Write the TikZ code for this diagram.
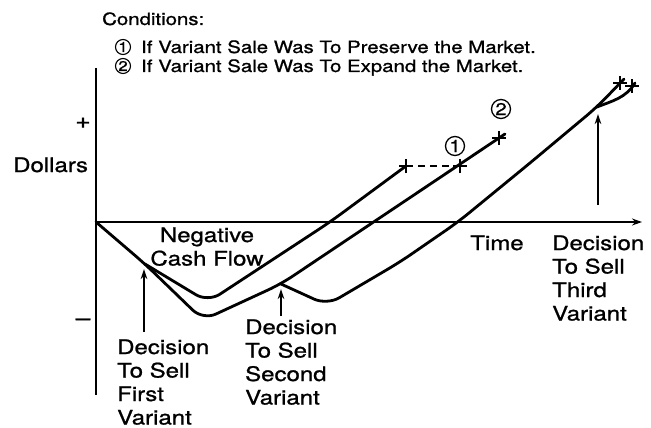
\documentclass[tikz,border=0pt]{standalone}
\usepackage{fontspec}
\setmainfont{TeX Gyre Heros}[FakeStretch=1.2, FakeBold=1]
\usetikzlibrary{arrows.meta}

\begin{document}
\begin{tikzpicture}[x=1pt,y=-1pt,
  curve/.style={line width=2.8pt, rounded corners=14pt, line join=round, line cap=round},
  axisline/.style={line width=2pt},
  pointer/.style={line width=1.8pt, -{Stealth[length=10pt,width=6.5pt]}},
  lbl/.style={font=\fontsize{20}{23.5}\selectfont, align=left, inner sep=0pt, anchor=base west},
  small/.style={font=\fontsize{17}{20}\selectfont, inner sep=0pt, anchor=base west},
  keynum/.style={circle, draw, line width=1.1pt, inner sep=0pt, minimum size=15pt,
                 font=\fontsize{14}{14}\selectfont},
  graphnum/.style={circle, draw, line width=1.3pt, inner sep=0pt, minimum size=19pt,
                 font=\fontsize{17}{17}\selectfont},
  tickmark/.style={line width=2pt},
  dashlink/.style={line width=1.8pt, dash pattern=on 7pt off 5pt}
]
\useasboundingbox (0,0) rectangle (651,428);

% axes
\coordinate (O) at (96,222);
\coordinate (ytop) at (96,68);
\coordinate (ybot) at (96,395);
\coordinate (xend) at (642,222);
\draw[axisline] (ytop) -- (ybot);
\draw[axisline, -{Stealth[length=10pt,width=7pt]}] (O) -- (xend);

% key points on the cash-flow curves
\coordinate (S1) at (145,264);
\coordinate (S2) at (281,284);
\coordinate (A1) at (406,166);
\coordinate (B1) at (460,166);
\coordinate (B2) at (499,138);
\coordinate (C1) at (597,107);
\coordinate (C2) at (620,83);
\coordinate (C3) at (632,86);

% first variant, market preserved
\draw[curve] (O) -- (S1) -- (203,320) -- (S2) -- (505,134);
% no variant sold
\draw[curve] (S1) -- (208,302) -- (330,222) -- (A1);
% second variant
\draw[curve] (S2) -- (327,305) -- (400,262) -- (458,222) -- (530,163) -- (C1) -- (624,79);
% third variant branch
\draw[curve] (C1) .. controls (612,101) and (626,98) .. (635,83);

% end marks
\foreach \p in {A1,B1,B2,C2,C3}
  \draw[tickmark] ([xshift=-7pt]\p) -- ([xshift=7pt]\p)
                  ([yshift=-7pt]\p) -- ([yshift=7pt]\p);
\draw[dashlink] (A1) -- (B1);

% circled markers on the graph
\node[graphnum] (m1) at (455,146) {1};
\node[graphnum] (m2) at (501,109) {2};

% legend
\node[small] (cond) at (102,25) {Conditions:};
\node[keynum] (k1) at (123,47) {1};
\node[keynum] (k2) at (123,66) {2};
\node[small] (c1) at (141,53) {If Variant Sale Was To Preserve the Market.};
\node[small] (c2) at (141,72) {If Variant Sale Was To Expand the Market.};

% axis labels
\node[lbl] (dollars) at (13,172) {Dollars};
\node[font=\fontsize{22}{22}\selectfont, inner sep=0pt] (plus) at (83,123) {+};
\node[font=\fontsize{22}{22}\selectfont, inner sep=0pt] (minus) at (83,322) {–};
\node[lbl, anchor=base] (time) at (497,250) {Time};
\node[lbl, align=center, anchor=base] (neg) at (207,265.5) {Negative\\Cash Flow};

% decision labels (anchored at the baseline of the last line)
\node[lbl] (d1) at (117,424.5) {Decision\\To Sell\\First\\Variant};
\node[lbl] (d2) at (245,404.5) {Decision\\To Sell\\Second\\Variant};
\node[lbl] (d3) at (552,320.5) {Decision\\To Sell\\Third\\Variant};

% decision pointers
\coordinate (t1) at (144,332);
\coordinate (h1) at (144,269);
\coordinate (t2) at (281,316);
\coordinate (h2) at (281,289);
\coordinate (t3) at (598,205);
\coordinate (h3) at (598,114);
\draw[pointer] (t1) -- (h1);
\draw[pointer] (t2) -- (h2);
\draw[pointer] (t3) -- (h3);
\end{tikzpicture}
\end{document}
